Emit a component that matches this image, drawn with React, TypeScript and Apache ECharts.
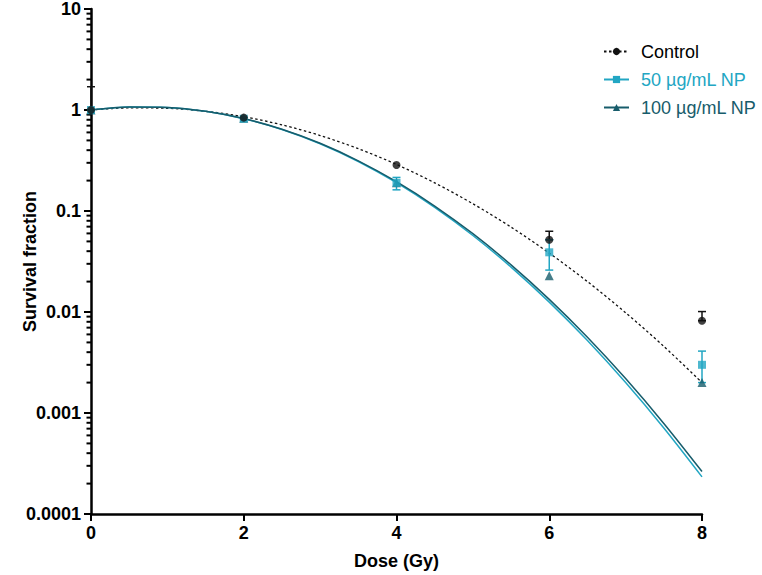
import React, { useEffect, useRef } from "react";
import * as echarts from "echarts";

const doses = [0, 2, 4, 6, 8];
const controlMean = [1, 0.84, 0.285, 0.052, 0.0082];
const controlErr = [
  [0, 1, 1.7],
  [6, 0.052, 0.063],
  [8, 0.0082, 0.0101],
];
const np50Mean = [1, 0.82, 0.19, 0.039, 0.003];
const np50Err = [
  [4, 0.162, 0.215],
  [6, 0.026, 0.052],
  [8, 0.002, 0.0041],
];
const np100Mean = [1, 0.83, 0.19, 0.0228, 0.002];

const curveDoses = [0, 0.5, 1, 1.5, 2, 2.5, 3, 3.5, 4, 4.5, 5, 5.5, 6, 6.5, 7, 7.5, 8];
const controlCurve = [1, 1.05, 1.04, 0.972, 0.857, 0.713, 0.559, 0.414, 0.289, 0.19, 0.118, 0.0693, 0.0383, 0.02, 0.00984, 0.00457, 0.002];
const np50Curve = [1, 1.071, 1.061, 0.971, 0.821, 0.641, 0.463, 0.309, 0.1906, 0.1086, 0.0572, 0.02785, 0.01253, 0.00521, 0.002, 0.00071, 0.000233];
const np100Curve = [1, 1.07, 1.059, 0.97, 0.822, 0.645, 0.468, 0.314, 0.195, 0.112, 0.0596, 0.0293, 0.01334, 0.00562, 0.00219, 0.000788, 0.000263];

const yTickLabels = ["0.0001", "0.001", "0.01", "0.1", "1", "10"];
const xTicks = [0, 2, 4, 6, 8];
const minorMultipliers = [2, 3, 4, 5, 6, 7, 8, 9];
const decades = [0.0001, 0.001, 0.01, 0.1, 1];

const seriesNames = ["Control", "50 µg/mL NP", "100 µg/mL NP"];
const BLACK = "#111111";
const CYAN = "#22a6c3";
const TEAL = "#175c6b";

const SANS = "'Liberation Sans', Arial, sans-serif";

function pairs(xs: number[], ys: number[]) {
  return xs.map((x, i) => [x, ys[i]]);
}

function errorBarSeries(data: number[][], color: string) {
  return {
    type: "custom",
    data,
    z: 3,
    clip: false,
    renderItem: (params: any, api: any) => {
      const x = api.value(0);
      const lo = api.coord([x, api.value(1)]);
      const hi = api.coord([x, api.value(2)]);
      const half = 4;
      const style = { stroke: color, lineWidth: 1.5 };
      return {
        type: "group",
        children: [
          { type: "line", shape: { x1: lo[0], y1: lo[1], x2: hi[0], y2: hi[1] }, style },
          { type: "line", shape: { x1: hi[0] - half, y1: hi[1], x2: hi[0] + half, y2: hi[1] }, style },
          { type: "line", shape: { x1: lo[0] - half, y1: lo[1], x2: lo[0] + half, y2: lo[1] }, style },
        ],
      };
    },
  };
}

export default function App() {
  const ref = useRef<HTMLDivElement>(null);
  useEffect(() => {
    if (!ref.current) return;
    const chart = echarts.init(ref.current, null, { renderer: "svg" });
    const minorTicks: number[][] = [];
    decades.forEach((d) => minorMultipliers.forEach((m) => minorTicks.push([0, d * m])));

    chart.setOption({
      animation: false,
      backgroundColor: "#ffffff",
      grid: { left: 91, right: 60, top: 9, bottom: 61, containLabel: false, outerBoundsMode: "none" },
      legend: {
        orient: "vertical",
        left: 598,
        top: 37,
        itemWidth: 25,
        itemHeight: 9,
        itemGap: 9,
        textStyle: { fontFamily: SANS, fontSize: 18, padding: [0, 0, 0, 7], lineHeight: 19 },
        data: [
          { name: seriesNames[0], textStyle: { color: "#000" } },
          { name: seriesNames[1], textStyle: { color: CYAN } },
          { name: seriesNames[2], textStyle: { color: TEAL } },
        ],
      },
      xAxis: {
        type: "value",
        min: 0,
        max: 8,
        interval: 2,
        name: "Dose (Gy)",
        nameLocation: "middle",
        nameGap: 38,
        nameMoveOverlap: false,
        nameTextStyle: { fontFamily: SANS, fontWeight: "bold", fontSize: 18, color: "#000" },
        axisLine: { lineStyle: { color: "#000", width: 2.5 } },
        axisTick: { length: 7, lineStyle: { color: "#000", width: 2 } },
        axisLabel: {
          fontFamily: SANS,
          fontWeight: "bold",
          fontSize: 18,
          color: "#000",
          margin: 10,
          formatter: (v: number) => String(xTicks.find((t) => t === v) ?? v),
        },
        splitLine: { show: false },
      },
      yAxis: {
        type: "log",
        logBase: 10,
        min: 0.0001,
        max: 10,
        name: "Survival fraction",
        nameLocation: "middle",
        nameGap: 52,
        nameMoveOverlap: false,
        nameTextStyle: { fontFamily: SANS, fontWeight: "bold", fontSize: 18, color: "#000" },
        axisLine: { lineStyle: { color: "#000", width: 2.5 } },
        axisTick: { length: 7, lineStyle: { color: "#000", width: 2 } },
        axisLabel: {
          fontFamily: SANS,
          fontWeight: "bold",
          fontSize: 18,
          color: "#000",
          margin: 10,
          formatter: (v: number) => yTickLabels[Math.round(Math.log10(v)) + 4] ?? String(v),
        },
        splitLine: { show: false },
      },
      series: [
        {
          type: "custom",
          name: "minorTicks",
          data: minorTicks,
          clip: false,
          silent: true,
          z: 1,
          renderItem: (params: any, api: any) => {
            const p = api.coord([0, api.value(1)]);
            return {
              type: "line",
              shape: { x1: p[0] - 4.5, y1: p[1], x2: p[0], y2: p[1] },
              style: { stroke: "#000", lineWidth: 2 },
            };
          },
        },
        {
          name: seriesNames[0],
          type: "line",
          data: pairs(curveDoses, controlCurve),
          smooth: 0.3,
          showSymbol: false,
          symbol: "circle",
          lineStyle: { color: BLACK, width: 1.3, type: [2.5, 2.5] },
          itemStyle: { color: BLACK },
          z: 2,
        },
        {
          name: seriesNames[1],
          type: "line",
          data: pairs(curveDoses, np50Curve),
          smooth: 0.3,
          showSymbol: false,
          symbol: "rect",
          lineStyle: { color: CYAN, width: 1.5 },
          itemStyle: { color: CYAN },
          z: 2,
        },
        {
          name: seriesNames[2],
          type: "line",
          data: pairs(curveDoses, np100Curve),
          smooth: 0.3,
          showSymbol: false,
          symbol: "triangle",
          lineStyle: { color: TEAL, width: 1.5 },
          itemStyle: { color: TEAL },
          z: 2,
        },
        errorBarSeries(controlErr, BLACK),
        errorBarSeries(np50Err, CYAN),
        {
          name: "pts100",
          type: "scatter",
          data: pairs(doses, np100Mean),
          symbol: "triangle",
          symbolSize: 9,
          itemStyle: { color: TEAL },
          z: 4,
        },
        {
          name: "pts50",
          type: "scatter",
          data: pairs(doses, np50Mean),
          symbol: "rect",
          symbolSize: 8,
          itemStyle: { color: CYAN },
          z: 5,
        },
        {
          name: "ptsControl",
          type: "scatter",
          data: pairs(doses, controlMean),
          symbol: "circle",
          symbolSize: 8,
          itemStyle: { color: BLACK },
          z: 6,
        },
      ],
    });
    return () => chart.dispose();
  }, []);
  return <div ref={ref} style={{ width: 762, height: 575, position: "absolute", left: 0, top: 0 }} />;
}
